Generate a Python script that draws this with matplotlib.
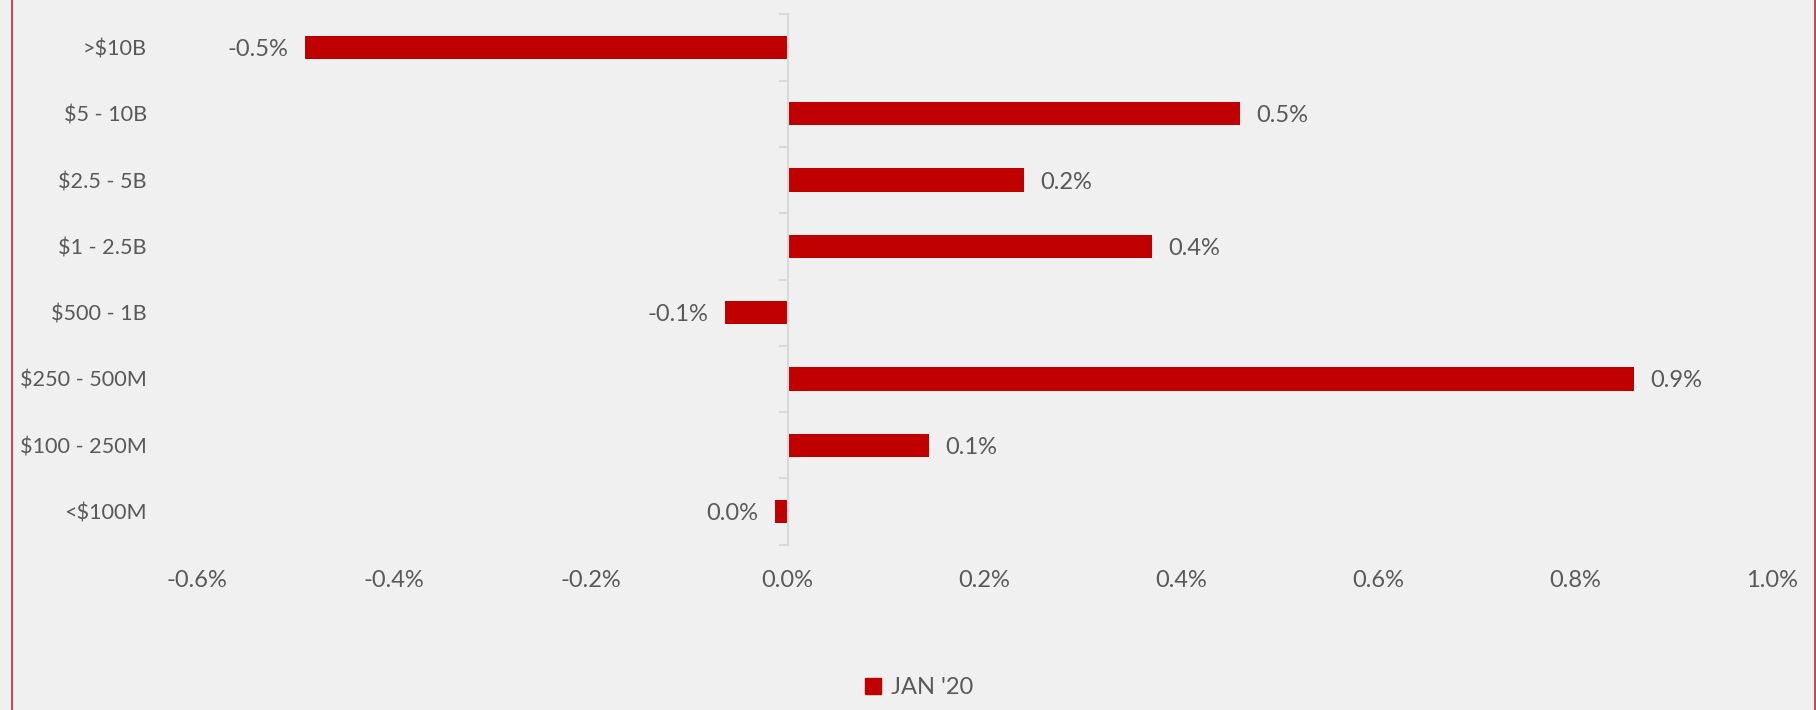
import matplotlib
matplotlib.use("Agg")
import matplotlib.pyplot as plt
from matplotlib.lines import Line2D
from matplotlib.patches import Patch
import numpy as np

categories = [">$10B", "$5 - 10B", "$2.5 - 5B", "$1 - 2.5B", "$500 - 1B",
              "$250 - 500M", "$100 - 250M", "<$100M"]
values = [-0.49, 0.46, 0.24, 0.37, -0.064, 0.86, 0.144, -0.013]
xticks = [-0.6, -0.4, -0.2, 0.0, 0.2, 0.4, 0.6, 0.8, 1.0]
series_name = "JAN '20"

BG = "#f0f0f0"
BAR = "#c00000"
TXT = "#595959"
AXC = "#d9d9d9"
FS = 17
FS_CAT = 15.6

plt.rcParams['font.family'] = ['Lato', 'DejaVu Sans']

fig = plt.figure(figsize=(18.16, 7.10), dpi=100, facecolor=BG)
ax = fig.add_axes([197/1816, 1-544.7/710, 1575/1816, (544.7-14.3)/710])
ax.set_facecolor(BG)

y = np.arange(len(categories))
ax.barh(y, values, height=0.35, color=BAR, linewidth=0, zorder=3)

ax.set_xlim(-0.6, 1.0)
ax.set_ylim(len(categories)-0.5, -0.5)

for s in ["top", "right", "bottom"]:
    ax.spines[s].set_visible(False)
ax.spines["left"].set_position(("data", 0))
ax.spines["left"].set_color(AXC)
ax.spines["left"].set_linewidth(1.5)
ax.spines["left"].set_zorder(4)

ax.set_yticks(y)
ax.set_yticklabels([])
ax.tick_params(axis="y", which="major", length=0)
ax.set_yticks(np.arange(len(categories)+1)-0.5, minor=True)
ax.tick_params(axis="y", which="minor", length=6.5, width=1.5, color=AXC)

ax.set_xticks(xticks)
ax.set_xticklabels([f"{t:.1f}%" for t in xticks], fontsize=FS, color=TXT)
ax.tick_params(axis="x", length=0, pad=18)

for yi, c in zip(y, categories):
    ax.text(-0.0318, yi, c, transform=ax.get_yaxis_transform(), ha="right",
            va="center_baseline", fontsize=FS_CAT, color=TXT)

for yi, v in zip(y, values):
    lab = f"{round(v, 1) + 0:.1f}%"
    if v >= 0:
        ax.annotate(lab, (v, yi), xytext=(11.5, 0), textcoords="offset points",
                    ha="left", va="center_baseline", fontsize=FS, color=TXT)
    else:
        ax.annotate(lab, (v, yi), xytext=(-12, 0), textcoords="offset points",
                    ha="right", va="center_baseline", fontsize=FS, color=TXT)

# legend
handle = Patch(facecolor=BAR, edgecolor=BAR)
fig.legend([handle], [series_name], loc="center", bbox_to_anchor=(0.506, 0.031),
           frameon=False, fontsize=FS, labelcolor=TXT, handlelength=0.7,
           handleheight=0.7, handletextpad=0.4)

# outer red border lines
fig.add_artist(Line2D([11.7/1816, 11.7/1816], [0, 1], color="#c0283c", lw=1.2,
                      transform=fig.transFigure))
fig.add_artist(Line2D([1815/1816, 1815/1816], [0, 1], color="#c0283c", lw=1.2,
                      transform=fig.transFigure))

fig.savefig("out.png", dpi=100, facecolor=BG)
